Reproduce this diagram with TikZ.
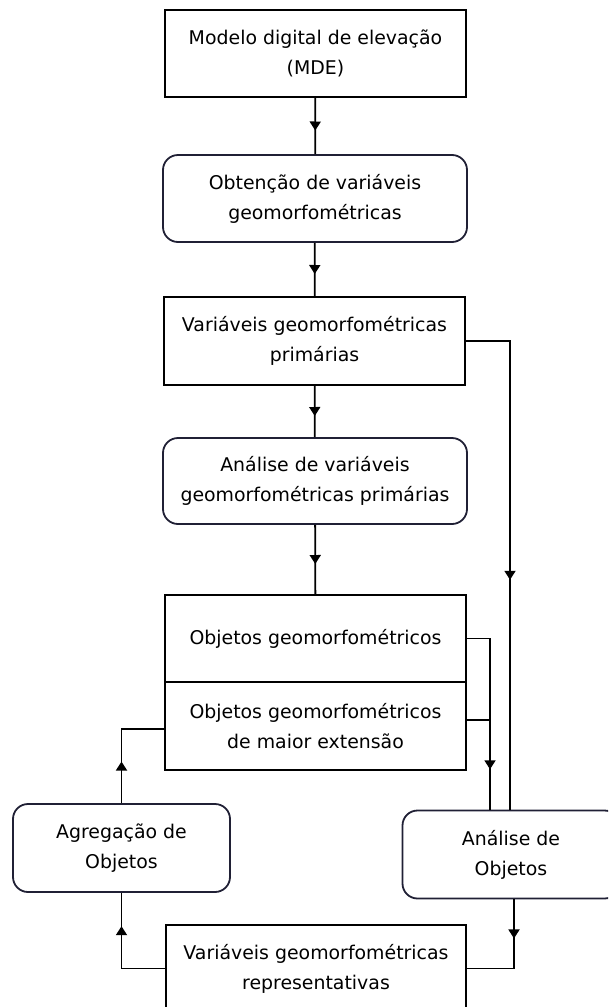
\documentclass[tikz,border=0pt]{standalone}
\usepackage{fontspec}
\setmainfont{DejaVu Sans}
\usetikzlibrary{arrows.meta,decorations.markings,calc}
\definecolor{rborder}{HTML}{202035}
\tikzset{
  base/.style={minimum height=87pt, align=center, inner sep=0pt, font=\fontsize{18.9}{30}\selectfont, line width=1.8pt},
  sqbox/.style={base, draw=black, rectangle},
  rndbox/.style={base, draw=rborder, rectangle, rounded corners=15pt},
  conn/.style={line width=1.8pt, line join=miter},
  midarrow/.style={conn, decoration={markings, mark=at position 0.5 with {\arrow[xshift=4.5pt]{Triangle[width=11pt,length=9pt]}}}, postaction={decorate}}
}
\begin{document}
\begin{tikzpicture}[x=1pt,y=-1pt]
\useasboundingbox (0,0) rectangle (608,1007);
\clip (0,0) rectangle (608,1007);
\node[sqbox, minimum width=301pt] (b1) at (315.5,53.5) {Modelo digital de elevação\\(MDE)};
\node[rndbox, minimum width=304pt] (b2) at (315,198.5) {Obtenção de variáveis\\geomorfométricas};
\node[sqbox, minimum width=301pt, minimum height=88pt] (b3) at (314.5,341) {Variáveis geomorfométricas\\primárias};
\node[rndbox, minimum width=304pt, minimum height=86pt] (b4) at (315,481) {Análise de variáveis\\geomorfométricas primárias};
\node[sqbox, minimum width=301pt] (b5a) at (315.5,638.5) {Objetos geomorfométricos};
\node[sqbox, minimum width=301pt, minimum height=88pt] (b5b) at (315.5,726) {Objetos geomorfométricos\\de maior extensão};
\node[rndbox, minimum width=217pt, minimum height=88pt] (an) at (511,854.5) {Análise de\\Objetos};
\node[rndbox, minimum width=217pt, minimum height=88pt] (ag) at (121.5,848) {Agregação de\\Objetos};
\node[sqbox, minimum width=300pt] (b7) at (316,968.5) {Variáveis geomorfométricas\\representativas};

\draw[midarrow] (b1) -- (b2);
\draw[midarrow] (b2) -- (b3);
\draw[midarrow] (b3) -- (b4);
\draw[midarrow] (b4) -- (b5a);

% right long connector
\coordinate (r1) at (510,341);
\draw[conn] (b3.east) -- (r1) -- (r1 |- an.north);
\draw[midarrow] (r1) -- (r1 |- an.north);

% from split box to analise
\coordinate (j1) at (490,638.5);
\coordinate (j2) at (490,720);
\draw[conn] (b5a.east) -- (j1) -- (j2);
\draw[conn] (b5b.east |- j2) -- (j2);
\draw[midarrow] (j2) -- (j2 |- an.north);

% analise to b7
\coordinate (s1) at ($(an.south)+(3,0)$);
\draw[conn] (s1) |- (b7.east);
\draw[midarrow] (s1) -- (s1 |- b7.east);

% b7 to agregacao
\coordinate (l1) at (b7.west -| ag.south);
\draw[conn] (b7.west) -- (l1) -- (ag.south);
\draw[midarrow] (l1) -- (ag.south);

% agregacao to b5b
\coordinate (l2) at (ag.north |- 0,729);
\draw[conn] (ag.north) -- (l2) -- (l2 -| b5b.west);
\draw[midarrow] (ag.north) -- (l2);
\end{tikzpicture}
\end{document}
